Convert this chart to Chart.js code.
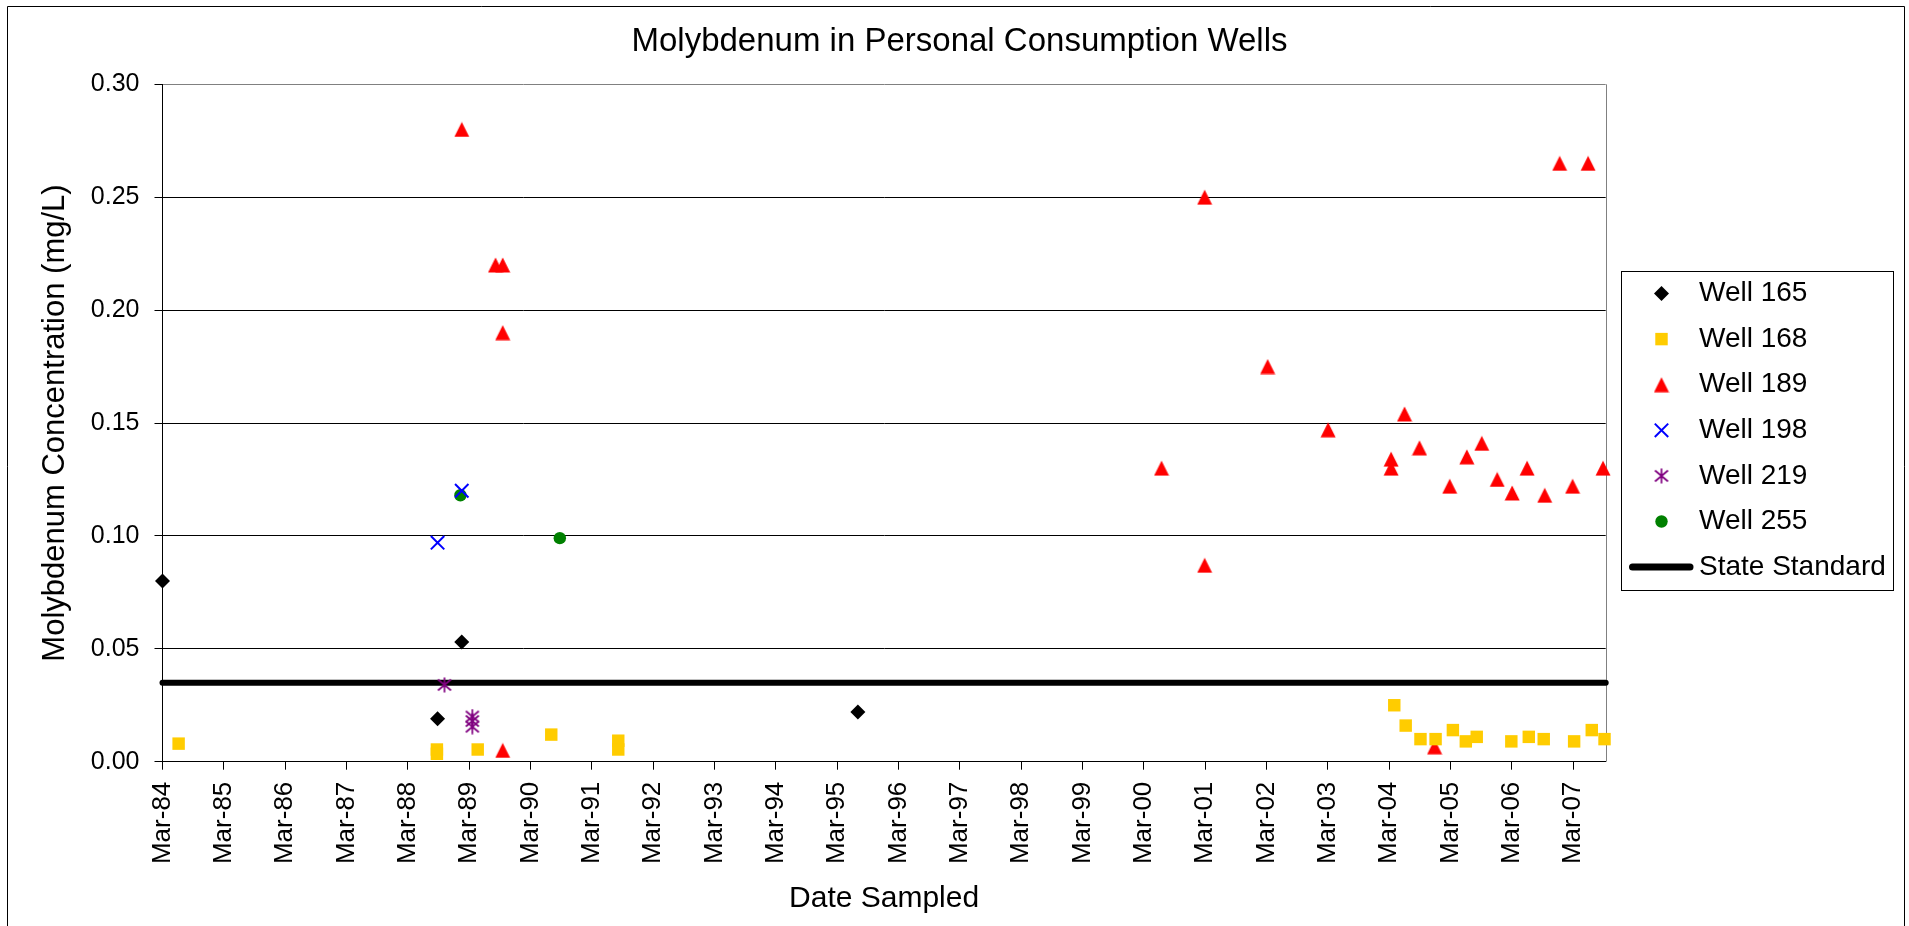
<!DOCTYPE html>
<html>
<head>
<meta charset="utf-8">
<script src="https://cdn.jsdelivr.net/npm/chart.js@4.4.1/dist/chart.umd.min.js"></script>
<style>
html,body{margin:0;padding:0;background:#ffffff;}
canvas{display:block;}
</style>
</head>
<body>
<canvas id="c" width="1909" height="926"></canvas>
<script>
// ---------------- data ----------------
const chartTitle = 'Molybdenum in Personal Consumption Wells';
const xTitle = 'Date Sampled';
const yTitle = 'Molybdenum Concentration (mg/L)';

const tickDates = ['1984-03-01','1985-03-01','1986-03-01','1987-03-01','1988-03-01','1989-03-01',
  '1990-03-01','1991-03-01','1992-03-01','1993-03-01','1994-03-01','1995-03-01','1996-03-01',
  '1997-03-01','1998-03-01','1999-03-01','2000-03-01','2001-03-01','2002-03-01','2003-03-01',
  '2004-03-01','2005-03-01','2006-03-01','2007-03-01'];
const tickLabels = ['Mar-84','Mar-85','Mar-86','Mar-87','Mar-88','Mar-89','Mar-90','Mar-91',
  'Mar-92','Mar-93','Mar-94','Mar-95','Mar-96','Mar-97','Mar-98','Mar-99','Mar-00','Mar-01',
  'Mar-02','Mar-03','Mar-04','Mar-05','Mar-06','Mar-07'];
const xMinDate = '1984-03-01';
const xMaxDate = '2007-09-11';
const yTickValues = [0, 0.05, 0.10, 0.15, 0.20, 0.25, 0.30];

const seriesNames = ['Well 165','Well 168','Well 189','Well 198','Well 219','Well 255','State Standard'];

const well165Dates  = ['1984-03-01','1988-08-25','1989-01-16','1995-07-03'];
const well165Values = [0.080, 0.019, 0.053, 0.022];

const well168Dates  = ['1984-06-05','1988-08-21','1988-08-21','1989-04-21','1990-07-03','1991-08-06','1991-08-06',
  '2004-03-31','2004-06-07','2004-09-03','2004-12-02','2005-03-15','2005-05-31','2005-08-04',
  '2006-02-26','2006-06-10','2006-09-07','2007-03-07','2007-06-20','2007-09-04'];
const well168Values = [0.008, 0.0054, 0.0035, 0.0054, 0.012, 0.0093, 0.0054,
  0.025, 0.016, 0.010, 0.010, 0.014, 0.009, 0.011,
  0.009, 0.011, 0.010, 0.009, 0.014, 0.010];

const well189Dates  = ['1989-01-16','1989-08-05','1989-09-17','1989-09-17','1989-09-17','2000-06-14',
  '2001-02-26','2001-02-26','2002-03-08','2003-03-03','2004-03-12','2004-03-12','2004-05-31',
  '2004-08-28','2004-11-26','2005-02-24','2005-06-06','2005-09-03','2005-12-04','2006-03-03',
  '2006-05-31','2006-09-13','2006-12-11','2007-02-26','2007-05-29','2007-08-26'];
const well189Values = [0.280, 0.220, 0.220, 0.190, 0.005, 0.130,
  0.250, 0.087, 0.175, 0.147, 0.134, 0.130, 0.154,
  0.139, 0.0066, 0.122, 0.135, 0.141, 0.125, 0.119,
  0.130, 0.118, 0.265, 0.122, 0.265, 0.130];

const well198Dates  = ['1988-08-25','1989-01-16'];
const well198Values = [0.097, 0.120];

const well219Dates  = ['1988-10-05','1989-03-20','1989-03-20','1989-03-20'];
const well219Values = [0.034, 0.020, 0.018, 0.0155];

const well255Dates  = ['1989-01-08','1990-08-23'];
const well255Values = [0.118, 0.099];

const standardValue = 0.035;

// ---------------- helpers ----------------
const FONT = "'Liberation Sans', Arial, Helvetica, sans-serif";
const toDay = s => { const p = s.split('-').map(Number); return Date.UTC(p[0], p[1] - 1, p[2]) / 86400000; };
const pts = (dates, vals) => dates.map((d, i) => ({ x: toDay(d), y: vals[i] }));
const xMin = toDay(xMinDate), xMax = toDay(xMaxDate);

function makeTriangle(color) {
  const c = document.createElement('canvas'); c.width = 16; c.height = 16;
  const g = c.getContext('2d'); g.fillStyle = color;
  g.beginPath(); g.moveTo(8, 0.5); g.lineTo(15.5, 15.5); g.lineTo(0.5, 15.5); g.closePath(); g.fill();
  return c;
}
function makeAsterisk(color) {
  const c = document.createElement('canvas'); c.width = 16; c.height = 16;
  const g = c.getContext('2d'); g.strokeStyle = color; g.lineWidth = 1.7;
  g.beginPath();
  g.moveTo(1.5, 2.5); g.lineTo(14.5, 13.5);
  g.moveTo(14.5, 2.5); g.lineTo(1.5, 13.5);
  g.moveTo(8, 0.5); g.lineTo(8, 15.5);
  g.stroke();
  return c;
}
const triImg = makeTriangle('#FF0000');
const astImg = makeAsterisk('#800080');

// ---------------- decoration plugin (frame, plot border, legend) ----------------
const decor = {
  id: 'decor',
  beforeDatasetsDraw(chart) {
    const { ctx, chartArea: a } = chart;
    ctx.save();
    ctx.strokeStyle = '#808080'; ctx.lineWidth = 1;
    const rx = Math.round(a.right) + 0.5;
    ctx.beginPath(); ctx.moveTo(rx, a.top); ctx.lineTo(rx, a.bottom); ctx.stroke();
    ctx.restore();
  },
  afterDraw(chart) {
    const ctx = chart.ctx;
    ctx.save();
    // outer chart frame
    ctx.strokeStyle = '#000'; ctx.lineWidth = 1;
    ctx.beginPath();
    ctx.moveTo(7.5, 940); ctx.lineTo(7.5, 6.5); ctx.lineTo(1904.5, 6.5); ctx.lineTo(1904.5, 940);
    ctx.stroke();
    // legend box
    const L = { left: 1621.5, top: 271.5, right: 1893.5, bottom: 590.5,
                markerX: 1661.5, lineX0: 1632.5, lineX1: 1690, textX: 1699, firstY: 293.5, pitch: 45.6 };
    ctx.fillStyle = '#fff';
    ctx.fillRect(L.left, L.top, L.right - L.left, L.bottom - L.top);
    ctx.strokeStyle = '#000'; ctx.lineWidth = 1;
    ctx.strokeRect(L.left, L.top, L.right - L.left, L.bottom - L.top);
    chart.data.datasets.forEach((ds, i) => {
      const y = L.firstY + i * L.pitch;
      ctx.save();
      if (ds.showLine) {
        ctx.strokeStyle = ds.borderColor; ctx.lineWidth = 7; ctx.lineCap = 'round';
        ctx.beginPath(); ctx.moveTo(L.lineX0, y); ctx.lineTo(L.lineX1, y); ctx.stroke();
      } else {
        ctx.fillStyle = ds.backgroundColor; ctx.strokeStyle = ds.borderColor; ctx.lineWidth = ds.borderWidth;
        Chart.helpers.drawPoint(ctx, { pointStyle: ds.pointStyle, radius: ds.pointRadius,
          borderWidth: ds.borderWidth, rotation: 0 }, L.markerX, y);
      }
      ctx.restore();
      ctx.fillStyle = '#000'; ctx.font = '28px ' + FONT;
      ctx.textAlign = 'left'; ctx.textBaseline = 'middle';
      ctx.fillText(ds.label, L.textX, y);
    });
    ctx.restore();
  }
};

// ---------------- chart ----------------
new Chart(document.getElementById('c'), {
  type: 'scatter',
  data: {
    datasets: [
      { label: seriesNames[0], data: pts(well165Dates, well165Values), pointStyle: 'rectRot', pointRadius: 7.5,
        backgroundColor: '#000000', borderColor: '#000000', borderWidth: 0, clip: false },
      { label: seriesNames[1], data: pts(well168Dates, well168Values), pointStyle: 'rect', pointRadius: 8.8,
        backgroundColor: '#FFCC00', borderColor: '#FFCC00', borderWidth: 0, clip: false },
      { label: seriesNames[2], data: pts(well189Dates, well189Values), pointStyle: triImg, pointRadius: 8,
        backgroundColor: '#FF0000', borderColor: '#FF0000', borderWidth: 0, clip: false },
      { label: seriesNames[3], data: pts(well198Dates, well198Values), pointStyle: 'crossRot', pointRadius: 9.5,
        backgroundColor: '#0000FF', borderColor: '#0000FF', borderWidth: 2, clip: false },
      { label: seriesNames[4], data: pts(well219Dates, well219Values), pointStyle: astImg, pointRadius: 8,
        backgroundColor: '#800080', borderColor: '#800080', borderWidth: 0, clip: false },
      { label: seriesNames[5], data: pts(well255Dates, well255Values), pointStyle: 'circle', pointRadius: 6.2,
        backgroundColor: '#008000', borderColor: '#008000', borderWidth: 0, clip: false },
      { label: seriesNames[6], data: [{ x: xMin, y: standardValue }, { x: xMax, y: standardValue }],
        showLine: true, borderColor: '#000000', backgroundColor: '#000000', borderWidth: 6,
        borderCapStyle: 'round', pointRadius: 0, clip: false }
    ]
  },
  options: {
    responsive: false,
    animation: false,
    events: [],
    layout: { padding: { left: 10, top: 0, right: 0, bottom: 5 } },
    plugins: {
      legend: { display: false },
      tooltip: { enabled: false },
      title: { display: true, text: chartTitle, color: '#000',
        font: { family: FONT, size: 33, weight: 'normal', lineHeight: 1.2 },
        padding: { top: 22.2, bottom: 22.5 } }
    },
    scales: {
      x: {
        type: 'linear', position: 'bottom', min: xMin, max: xMax,
        afterBuildTicks: s => { s.ticks = tickDates.map(d => ({ value: toDay(d) })); },
        afterFit: s => { s.height = 159.3; },
        grid: { drawOnChartArea: false, drawTicks: true, tickLength: 8, color: '#000', tickColor: '#000', lineWidth: 1 },
        border: { display: true, color: '#000', width: 1 },
        ticks: { autoSkip: false, minRotation: 90, maxRotation: 90, padding: 12, color: '#000',
          font: { family: FONT, size: 26 }, callback: (v, i) => tickLabels[i] },
        title: { display: true, text: xTitle, color: '#000', font: { family: FONT, size: 30 },
          padding: { top: 0, bottom: 4 } }
      },
      y: {
        type: 'linear', position: 'left', min: 0, max: 0.3,
        afterBuildTicks: s => { s.ticks = yTickValues.map(v => ({ value: v })); },
        afterFit: s => { s.width = 152.5; },
        grid: { color: c => (c.tick && Math.abs(c.tick.value - 0.3) < 1e-9) ? '#808080' : '#000',
          lineWidth: 1, tickLength: 8, tickColor: '#000' },
        border: { display: true, color: '#000', width: 1 },
        ticks: { padding: 15, color: '#000', font: { family: FONT, size: 25 },
          callback: v => Number(v).toFixed(2) },
        title: { display: true, text: yTitle, color: '#000', font: { family: FONT, size: 31 },
          padding: { top: 27, bottom: 4 } }
      },
      legendSpace: {
        type: 'linear', position: 'right', display: true,
        grid: { display: false }, border: { display: false }, ticks: { display: false },
        afterFit: s => { s.width = 303.3; }
      }
    }
  },
  plugins: [decor]
});
</script>
</body>
</html>
